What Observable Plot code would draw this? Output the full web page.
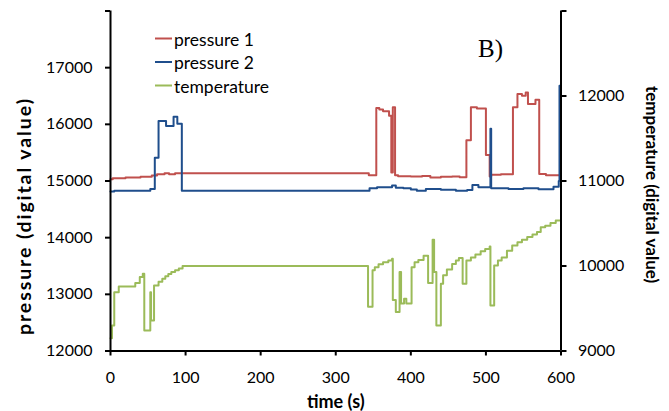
<!DOCTYPE html>
<html>
<head>
<meta charset="utf-8">
<script src="https://cdn.jsdelivr.net/npm/d3@7"></script>
<script src="https://cdn.jsdelivr.net/npm/@observablehq/plot@0.6"></script>
<style>
  html, body { margin: 0; padding: 0; background: #fff; }
  #chart { width: 669px; height: 411px; }
</style>
</head>
<body>
<div id="chart"></div>
<script>
// ---- data ----
const seriesNames = ["pressure 1", "pressure 2", "temperature"];
const seriesColors = ["#C0504D", "#1F4E8C", "#9BBB59"];

const p1Time  = [0, 3, 20, 40, 55, 62, 72, 78, 86, 344, 354, 358, 363, 371, 374, 376, 379, 383, 400, 415, 426, 440, 455, 465, 474, 480, 488, 500, 505, 507, 520, 536, 542, 548, 553, 556, 566, 571, 580, 600];
const p1Value = [15030, 15050, 15060, 15075, 15095, 15120, 15135, 15120, 15135, 15100, 16290, 16260, 16230, 16150, 15150, 16300, 15100, 15085, 15080, 15090, 15060, 15075, 15080, 15065, 15720, 16300, 16280, 15460, 15080, 15110, 15120, 16300, 16535, 16505, 16560, 16360, 16435, 15125, 15100, 15100];

const p2Time  = [0, 5, 53, 59, 64, 74, 84, 89, 95, 342, 345, 355, 375, 380, 390, 400, 408, 420, 440, 460, 475, 482, 490, 506, 507, 530, 550, 570, 590, 597, 598, 600];
const p2Value = [14815, 14830, 14860, 15410, 16060, 15970, 16135, 16010, 14830, 14830, 14870, 14890, 14920, 14880, 14870, 14850, 14830, 14860, 14845, 14830, 14840, 14930, 14890, 15920, 14870, 14860, 14870, 14855, 14900, 15000, 16680, 16650];

const tTime  = [0, 2, 5, 11, 33, 39, 43, 45, 53, 54, 58, 64, 69, 73, 77, 81, 86, 91, 96, 343, 349, 352, 357, 363, 370, 375, 376, 380, 385, 387, 391, 394, 401, 405, 410, 417, 423, 429, 431, 434, 440, 443, 448, 455, 460, 464, 469, 474, 480, 486, 493, 499, 505, 506, 511, 516, 521, 528, 535, 542, 548, 555, 562, 568, 573, 579, 586, 593, 600];
const tValue = [9150, 9300, 9690, 9760, 9800, 9870, 9910, 9240, 9690, 9360, 9770, 9815, 9850, 9880, 9905, 9930, 9950, 9970, 10000, 9520, 9950, 9985, 10020, 10045, 10065, 10085, 9600, 9460, 9930, 9560, 9615, 9560, 9985, 10045, 10070, 10120, 9800, 10310, 9930, 9300, 9790, 9890, 9960, 10025, 10065, 10095, 9790, 10065, 10100, 10135, 10175, 10200, 10230, 9535, 10005, 10065, 10100, 10180, 10240, 10280, 10310, 10340, 10370, 10400, 10455, 10475, 10505, 10535, 10540];

const xTicks = [0, 100, 200, 300, 400, 500, 600];
const leftTicks = [12000, 13000, 14000, 15000, 16000, 17000, 18000];
const rightTicks = [9000, 10000, 11000, 12000, 13000];

// ---- secondary axis mapping (temperature 9000..13000 onto pressure 12000..18000) ----
const toLeft = T => 12000 + (T - 9000) * 1.5;
const fromLeft = y => 9000 + (y - 12000) / 1.5;

const p1 = p1Time.map((t, i) => ({t, v: p1Value[i]}));
const p2 = p2Time.map((t, i) => ({t, v: p2Value[i]}));
const temp = tTime.map((t, i) => ({t, v: toLeft(tValue[i])}));

const font = "Lato, 'Open Sans', sans-serif";

const chart = Plot.plot({
  width: 669,
  height: 411,
  marginLeft: 110,
  marginRight: 108.5,
  marginTop: 10.5,
  marginBottom: 60.5,
  style: {fontFamily: font, fontSize: "16px", color: "#000", background: "#fff"},
  x: {domain: [0, 600]},
  y: {domain: [12000, 18000]},
  marks: [
    Plot.line(p1, {x: "t", y: "v", stroke: seriesColors[0], strokeWidth: 2, curve: "step-after"}),
    Plot.line(p2, {x: "t", y: "v", stroke: seriesColors[1], strokeWidth: 2, curve: "step-after"}),
    Plot.line(temp, {x: "t", y: "v", stroke: seriesColors[2], strokeWidth: 2, curve: "step-after"}),
    Plot.ruleY([12000], {stroke: "#000", strokeWidth: 2}),
    Plot.ruleX([0], {stroke: "#000", strokeWidth: 2}),
    Plot.ruleX([600], {stroke: "#000", strokeWidth: 2}),
    Plot.axisX(xTicks, {anchor: "bottom", tickSize: 5, tickPadding: 16, strokeWidth: 2, label: null, tickFormat: d => String(d)}),
    Plot.axisY(leftTicks, {anchor: "left", tickSize: 5, tickPadding: 13, strokeWidth: 2, label: null, tickFormat: d => d === 18000 ? "" : String(d)}),
    Plot.axisY(rightTicks.map(toLeft), {anchor: "right", tickSize: 5, tickPadding: 12, strokeWidth: 2, label: null, tickFormat: y => { const T = Math.round(fromLeft(y)); return T === 13000 ? "" : String(T); }}),
    Plot.text(["pressure (digital value)"], {frameAnchor: "left", dx: -86, dy: 36, rotate: -90, textAnchor: "middle", fontWeight: "bold", fontSize: 19.5, fill: "#000"}),
    Plot.text(["temperature (digital value)"], {frameAnchor: "right", dx: 90.5, dy: 3.5, rotate: 90, textAnchor: "middle", fontWeight: "bold", fontSize: 17, fill: "#000"}),
    Plot.text(["time (s)"], {frameAnchor: "bottom", dy: 57, textAnchor: "middle", fontWeight: "bold", fontSize: 18, fill: "#000"})
  ]
});

const svg = d3.select(chart);
svg.selectAll('g[aria-label$="tick label"] text').attr("font-size", 16);
// stretch the left axis title to the reference length
svg.selectAll('g[aria-label="text"] text')
  .filter(function() { return this.textContent === "pressure (digital value)"; })
  .attr("textLength", 236).attr("lengthAdjust", "spacing");

// legend inside the plot area, and panel label
const lg = svg.append("g").attr("font-family", font).attr("font-size", 17.5).attr("text-anchor", "start");
seriesNames.forEach((name, i) => {
  const y = [38.5, 62, 85.5][i];
  lg.append("line").attr("x1", 155).attr("x2", 172).attr("y1", y).attr("y2", y)
    .attr("stroke", seriesColors[i]).attr("stroke-width", 2);
  lg.append("text").attr("x", 174).attr("y", y + 7).attr("fill", "#000").text(name);
});
svg.append("text").attr("x", 478).attr("y", 56.5).attr("text-anchor", "start")
  .attr("font-family", "'Liberation Serif', 'Times New Roman', serif").attr("font-size", 25)
  .attr("fill", "#000").text("B)");

document.getElementById("chart").appendChild(chart);
</script>
</body>
</html>
